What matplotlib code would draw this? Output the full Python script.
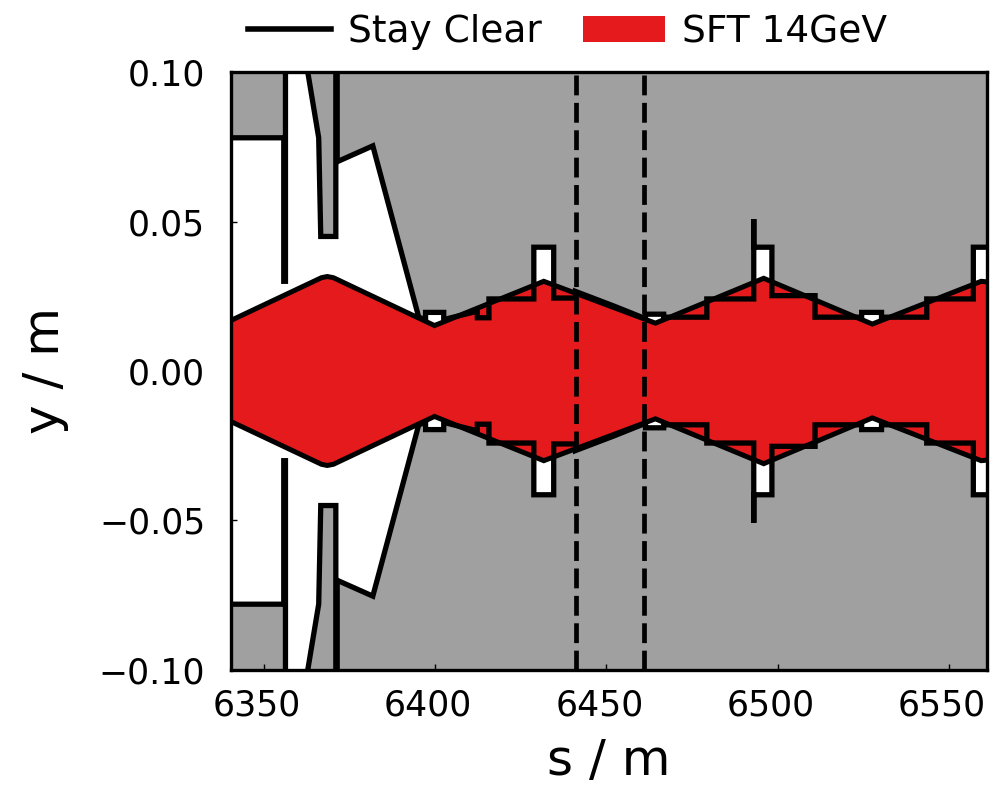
import matplotlib
matplotlib.use("Agg")
import matplotlib.pyplot as plt
import matplotlib.transforms as mtransforms
from matplotlib.patches import Patch
from matplotlib.lines import Line2D

# beam envelope (upper half, mirrored below)
beam_s = [6340.0, 6366.8, 6368.5, 6370.3, 6399.8, 6431.7, 6464.3,
          6495.9, 6527.6, 6559.4, 6562.0]
beam_y = [0.0167, 0.0312, 0.0316, 0.0312, 0.0152, 0.0300, 0.0160,
          0.0310, 0.0157, 0.0300, 0.0297]

# stay clear outline (upper half, mirrored below)
clear_s = [6340.0, 6355.8, 6355.8, 6356.3, 6356.3, 6359.9, 6366.0, 6366.6,
           6371.0, 6371.0, 6371.4, 6371.4, 6381.8, 6395.2, 6397.2, 6397.2,
           6402.5, 6402.5, 6412.3, 6412.3, 6415.7, 6415.7, 6428.8, 6428.8,
           6434.6, 6434.6, 6441.0, 6441.0, 6452.0, 6461.4, 6461.4, 6466.7,
           6466.7, 6479.3, 6479.3, 6493.0, 6493.0, 6493.0, 6498.3, 6498.3,
           6510.9, 6510.9, 6524.5, 6524.5, 6530.3, 6530.3, 6543.5, 6543.5,
           6557.1, 6557.1, 6562.0]
clear_y = [0.0780, 0.0780, 0.0300, 0.0300, 0.1200, 0.1200, 0.0780, 0.0450,
           0.0450, 0.1200, 0.1200, 0.0700, 0.0753, 0.0180, 0.0172, 0.0196,
           0.0196, 0.0172, 0.0200, 0.0178, 0.0178, 0.0241, 0.0241, 0.0414,
           0.0414, 0.0244, 0.0244, 0.0266, 0.0218, 0.0175, 0.0190, 0.0190,
           0.0180, 0.0180, 0.0241, 0.0241, 0.0508, 0.0414, 0.0414, 0.0252,
           0.0252, 0.0180, 0.0180, 0.0196, 0.0196, 0.0180, 0.0180, 0.0241,
           0.0241, 0.0414, 0.0414]

markers_s = [6441.0, 6460.9]

xticks = [6350, 6400, 6450, 6500, 6550]
yticks = [-0.10, -0.05, 0.00, 0.05, 0.10]

red = '#e41a1c'
grey = '#a0a0a0'

fig = plt.figure(figsize=(9.91, 7.87), dpi=100)
ax = fig.add_axes([0.2331, 0.1487, 0.7629, 0.7598])
ax.set_facecolor(grey)

neg_clear = [-v for v in clear_y]
neg_beam = [-v for v in beam_y]

ax.fill_between(clear_s, neg_clear, clear_y, color='white', lw=0, zorder=1)
ax.fill_between(beam_s, neg_beam, beam_y, color=red, lw=0, zorder=2)
ax.plot(beam_s, beam_y, color='black', lw=3.6, zorder=3, solid_joinstyle='miter')
ax.plot(beam_s, neg_beam, color='black', lw=3.6, zorder=3, solid_joinstyle='miter')
ax.plot(clear_s, clear_y, color='black', lw=3.8, zorder=4, solid_joinstyle='miter')
ax.plot(clear_s, neg_clear, color='black', lw=3.8, zorder=4, solid_joinstyle='miter')

for s in markers_s:
    ax.axvline(s, color='black', lw=3.4, ls=(0, (4.2, 1.6)), zorder=5)

ax.set_xlim(6340.4, 6561.1)
ax.set_ylim(-0.1, 0.1)
ax.set_xticks(xticks)
ax.set_yticks(yticks)
ax.tick_params(axis='both', direction='in', length=4, width=1, labelsize=25)
ax.tick_params(axis='x', pad=13.5)
ax.tick_params(axis='y', pad=18.5)
for sp in ax.spines.values():
    sp.set_linewidth(2.4)
    sp.set_zorder(6)

# x tick labels sit a little left of their ticks in the original
shift = mtransforms.ScaledTranslation(-7 / 100, 0, fig.dpi_scale_trans)
for lab in ax.get_xticklabels():
    lab.set_transform(lab.get_transform() + shift)

ax.set_xlabel('s / m', fontsize=36)
ax.set_ylabel('y / m', fontsize=36)
ax.xaxis.set_label_coords(0.5, -0.112)
ax.yaxis.set_label_coords(-0.214, 0.5)

handles = [Line2D([], [], color='black', lw=4),
           Patch(facecolor=red, edgecolor='none')]
fig.legend(handles, ['Stay Clear', 'SFT 14GeV'], loc='center',
           bbox_to_anchor=(0.573, 0.959), ncol=2, frameon=False,
           fontsize=27, handlelength=2.2, handletextpad=0.45,
           columnspacing=1.1, borderpad=0, borderaxespad=0)

fig.savefig('out.png', dpi=100)
